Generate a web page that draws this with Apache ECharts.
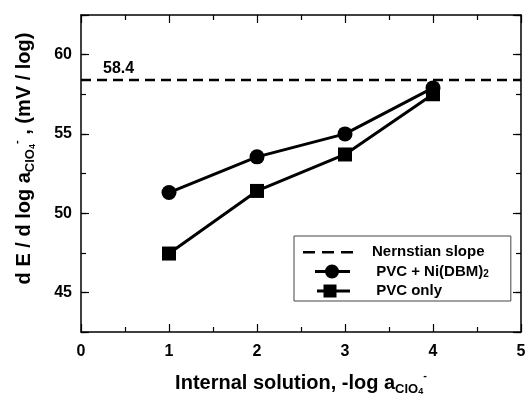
<!DOCTYPE html>
<html>
<head>
<meta charset="utf-8">
<script src="https://cdn.jsdelivr.net/npm/echarts@6/dist/echarts.min.js"></script>
<style>
  html, body { margin: 0; padding: 0; background: #fff; }
  #chart { width: 525px; height: 398px; }
</style>
</head>
<body>
<div id="chart"></div>
<script>
// data
const xValues = [1, 2, 3, 4]
const niDbm = [51.3, 53.55, 55.0, 57.9]   // PVC + Ni(DBM)2
const pvcOnly = [47.45, 51.4, 53.7, 57.5]
const nernst = 58.4
const xTicks = [0, 1, 2, 3, 4, 5]
const yTicks = [45, 50, 55, 60]

const font = 'Liberation Sans, Arial, sans-serif'
const black = '#000'

const pairs = (ys) => xValues.map((x, i) => [x, ys[i]])

// rich text pieces for the a_{ClO4-} subscript
const rich = {
  t: { fontSize: 20, fontWeight: 'bold', fontFamily: font, color: black, lineHeight: 26 },
  s: { fontSize: 13, fontWeight: 'bold', fontFamily: font, color: black, lineHeight: 14, verticalAlign: 'bottom' },
  ss: { fontSize: 9, fontWeight: 'bold', fontFamily: font, color: black, lineHeight: 9, verticalAlign: 'bottom' },
  sup: { fontSize: 11, fontWeight: 'bold', fontFamily: font, color: black, lineHeight: 20, verticalAlign: 'top' }
}

// legend icons (drawn in a 50 x 16 box, the corner moves keep the box)
const box = 'M0,0 M50,16 '
const iconDash = 'path://' + box + 'M0,7h12v2.6h-12z M19,7h12v2.6h-12z M38,7h12v2.6h-12z'
const iconCircle = 'path://' + box + 'M12,6.5h35v3h-35z M36,8a7,7 0 1,1 -14,0a7,7 0 1,1 14,0z'
const iconSquare = 'path://' + box + 'M14,6.5h33v3h-33z M20.5,1.5h13v13h-13z'

const chart = echarts.init(document.getElementById('chart'))

const lineAxis = { lineStyle: { color: black, width: 1.5 } }
const tickStyle = { color: black, width: 1.2 }
const yBase = { type: 'value', min: 42.5, max: 62.5, splitLine: { show: false } }

const option = {
  animation: false,
  backgroundColor: '#fff',
  grid: { left: 81, right: 4, top: 15, bottom: 66, outerBoundsMode: 'none' },
  xAxis: [{
    type: 'value', min: xTicks[0], max: xTicks[xTicks.length - 1], interval: 1,
    position: 'bottom',
    axisLine: lineAxis,
    axisTick: { inside: true, length: 8, lineStyle: tickStyle },
    minorTick: { show: true, splitNumber: 2, length: 5, lineStyle: tickStyle },
    splitLine: { show: false },
    axisLabel: { fontSize: 16, fontWeight: 'bold', fontFamily: font, color: black, margin: 12 },
    name: '{t|Internal solution, -log a}{s|ClO}{ss|4}{sup|-}',
    nameLocation: 'middle', nameGap: 38,
    nameTextStyle: { rich }
  }, {
    type: 'value', min: xTicks[0], max: xTicks[xTicks.length - 1], interval: 1,
    position: 'top',
    axisLine: lineAxis,
    axisTick: { inside: true, length: 8, lineStyle: tickStyle },
    minorTick: { show: true, splitNumber: 2, length: 5, lineStyle: tickStyle },
    splitLine: { show: false },
    axisLabel: { show: false }
  }],
  yAxis: [{
    // left: short ticks every 2.5
    ...yBase, interval: 2.5, position: 'left',
    axisLine: lineAxis,
    axisTick: { inside: true, length: 5, lineStyle: tickStyle },
    axisLabel: { show: false },
    name: '{t|d E / d log a}{s|ClO}{ss|4}{sup|-}{t| , (mV / log)}',
    nameLocation: 'middle', nameRotate: 90, nameGap: 44,
    nameTextStyle: { rich, padding: [0, 0, 0, 30] }
  }, {
    // left: long ticks + labels at 45, 50, 55, 60
    ...yBase, splitNumber: 4, position: 'left',
    axisLine: { show: false },
    axisTick: { inside: true, length: 8, lineStyle: tickStyle },
    axisLabel: {
      fontSize: 16, fontWeight: 'bold', fontFamily: font, color: black, margin: 9,
      formatter: (v) => yTicks.indexOf(v) >= 0 ? String(v) : ''
    }
  }, {
    ...yBase, interval: 2.5, position: 'right',
    axisLine: lineAxis,
    axisTick: { inside: true, length: 5, lineStyle: tickStyle },
    axisLabel: { show: false }
  }, {
    ...yBase, splitNumber: 4, position: 'right',
    axisLine: { show: false },
    axisTick: { inside: true, length: 8, lineStyle: tickStyle },
    axisLabel: { show: false }
  }],
  legend: {
    orient: 'vertical', left: 294, top: 236,
    padding: [8, 22, 2, 9],
    itemWidth: 50, itemHeight: 16, itemGap: 3.5,
    backgroundColor: '#fff', borderColor: '#444', borderWidth: 1,
    textStyle: {
      fontSize: 15, fontWeight: 'bold', fontFamily: font, color: black,
      padding: [0, 0, 0, 14],
      rich: {
        n: { fontSize: 15, fontWeight: 'bold', fontFamily: font, color: black, lineHeight: 16 },
        sub: { fontSize: 10, fontWeight: 'bold', fontFamily: font, color: black, lineHeight: 6, verticalAlign: 'bottom' }
      }
    },
    formatter: (name) => name === 'PVC + Ni(DBM)2' ? '{n| PVC + Ni(DBM)}{sub|2}' : (name === 'PVC only' ? '{n| PVC only}' : '{n|' + name + '}'),
    data: [
      { name: 'Nernstian slope', icon: iconDash },
      { name: 'PVC + Ni(DBM)2', icon: iconCircle },
      { name: 'PVC only', icon: iconSquare }
    ]
  },
  series: [{
    name: 'Nernstian slope',
    type: 'line', data: [[xTicks[0], nernst], [xTicks[xTicks.length - 1], nernst]],
    symbol: 'none',
    lineStyle: { type: [10, 6], width: 2.5, color: black },
    itemStyle: { color: black },
    markLine: {
      silent: true, symbol: 'none',
      lineStyle: { color: 'rgba(0,0,0,0)', width: 0 },
      label: {
        show: true,
        position: 'insideStartTop', distance: [22, 3],
        formatter: String(nernst),
        fontSize: 16, fontWeight: 'bold', fontFamily: font, color: black
      },
      data: [{ yAxis: nernst }]
    }
  }, {
    name: 'PVC + Ni(DBM)2',
    type: 'line', data: pairs(niDbm),
    symbol: 'circle', symbolSize: 15,
    lineStyle: { width: 3, color: black },
    itemStyle: { color: black }
  }, {
    name: 'PVC only',
    type: 'line', data: pairs(pvcOnly),
    symbol: 'rect', symbolSize: 14,
    lineStyle: { width: 3, color: black },
    itemStyle: { color: black }
  }]
}

chart.setOption(option)
</script>
</body>
</html>
